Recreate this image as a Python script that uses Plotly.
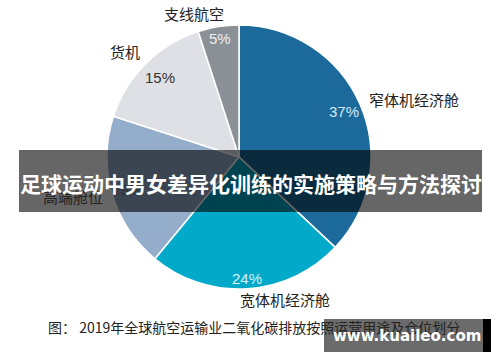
import math
import plotly.graph_objects as go

# Data
categories = ["窄体机经济舱", "宽体机经济舱", "高端舱位", "货机", "支线航空"]
shares = [37, 24, 19, 15, 5]

title_text = "足球运动中男女差异化训练的实施策略与方法探讨"
caption_text = "图： 2019年全球航空运输业二氧化碳排放按照运营用途及仓位划分"
watermark_text = "www.kuaileo.com"

# Styles
slice_colors = ["#1b6a9b", "#02a9c9", "#94adca", "#dfe0e5", "#8b9096"]
pct_colors = ["#d6eaf5", "#d8f3fa", "#333333", "#333333", "#f0f0f0"]
pct_radius = [0.87, 0.92, 0.88, 0.85, 0.91]
# label nudges from the slice's outer edge point (px) and anchors
label_offsets = [(7, -5, "left"), (38, 11, "center"), (-7, 3, "right"), (-4, -12, "right"), (-24, -13, "center")]

W, H = 500, 362
def px(x):
    return x / W
def py(y):
    return 1 - y / H

CX, CY, R = 239, 157, 132
dom = dict(x=[px(CX - R), px(CX + R)], y=[py(CY + R), py(CY - R)])
cjk = "Noto Sans CJK SC"

fig = go.Figure()
fig.add_trace(go.Pie(
    labels=categories, values=shares, sort=False, direction="clockwise", rotation=0,
    marker=dict(colors=slice_colors, line=dict(color="white", width=1.5)),
    textinfo="none", domain=dom, showlegend=False, hoverinfo="skip",
))

annotations = []
total = sum(shares)
cum = 0
for i, v in enumerate(shares):
    mid = (cum + v / 2) / total * 2 * math.pi
    cum += v
    s, c = math.sin(mid), math.cos(mid)
    r = pct_radius[i] * R
    annotations.append(dict(
        text=f"{round(v / total * 100)}%", x=px(CX + r * s), y=py(CY - r * c),
        xref="paper", yref="paper", xanchor="center", yanchor="middle", showarrow=False,
        font=dict(family="Liberation Sans Narrow, Liberation Sans, Arial", size=15, color=pct_colors[i])))
    dx, dy, anc = label_offsets[i]
    annotations.append(dict(
        text=categories[i], x=px(CX + R * s + dx), y=py(CY - R * c + dy),
        xref="paper", yref="paper", xanchor=anc, yanchor="middle", showarrow=False,
        font=dict(family=cjk, size=15, color="#222222")))

shapes = [
    dict(type="rect", xref="paper", yref="paper", x0=px(19), x1=px(482), y0=py(212), y1=py(150),
         fillcolor="rgba(0,0,0,0.6)", line=dict(width=0), layer="above"),
    dict(type="rect", xref="paper", yref="paper", x0=px(324), x1=px(483), y0=py(352), y1=py(319),
         fillcolor="rgba(0,0,0,0.58)", line=dict(width=0), layer="above"),
    dict(type="rect", xref="paper", yref="paper", x0=px(483), x1=px(491), y0=py(352), y1=py(319),
         fillcolor="#000000", line=dict(width=0), layer="above"),
]

annotations += [
    dict(text=caption_text, x=px(46), y=py(327), xref="paper", yref="paper",
         xanchor="left", yanchor="middle", showarrow=False,
         font=dict(family=cjk, size=14, color="#222222")),
    dict(text=title_text, x=px(250.5), y=py(183), xref="paper", yref="paper",
         xanchor="center", yanchor="middle", showarrow=False,
         font=dict(family=cjk, size=21, color="white", weight=700)),
    dict(text=watermark_text, x=px(407), y=py(336), xref="paper", yref="paper",
         xanchor="center", yanchor="middle", showarrow=False,
         font=dict(family="DejaVu Sans", size=15, color="white", weight=700)),
]

fig.update_layout(
    width=W, height=H, margin=dict(l=0, r=0, t=0, b=0),
    paper_bgcolor="white", plot_bgcolor="white",
    shapes=shapes, annotations=annotations,
)
fig.write_html("out.html", config={"displayModeBar": False},
               post_script="document.body.style.margin='0';")
